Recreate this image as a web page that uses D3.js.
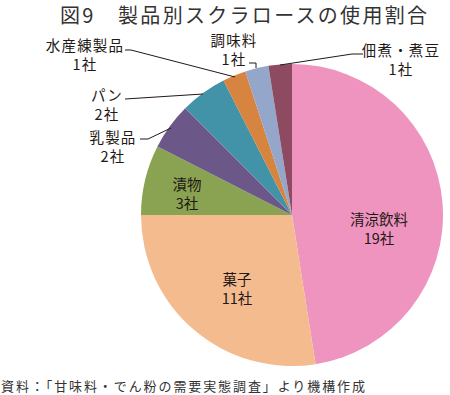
<!DOCTYPE html>
<html lang="ja">
<head>
<meta charset="UTF-8">
<title>製品別スクラロースの使用割合</title>
<script src="https://cdn.jsdelivr.net/npm/d3@7"></script>
<style>
  body { margin: 0; background: #fff; }
  svg { display: block; font-family: "Noto Sans CJK JP", "Noto Sans", sans-serif; }
  .lbl { font-size: 14.5px; fill: #231815; }
  .out { letter-spacing: 1.2px; }
  .leader { fill: none; stroke: #231815; stroke-width: 1; }
</style>
</head>
<body>
<svg id="chart" width="450" height="395"></svg>
<script>
// data (counts of companies)
const categories = ["清涼飲料", "菓子", "漬物", "乳製品", "パン", "水産練製品", "調味料", "佃煮・煮豆"];
const counts = [19, 11, 3, 2, 2, 1, 1, 1];
const colors = ["#ee94be", "#f4bb8f", "#8aa352", "#6c5789", "#4292a8", "#d6843f", "#94a6c9", "#8e4a60"];

// label anchor points [x, y of first line]
const labelPos = [[379, 220], [237, 280], [187, 185], [113, 138], [107, 96], [85, 46], [234, 41], [401, 51]];
// leader lines (null = label inside slice)
const leaders = [null, null, null,
  [[140, 139], [148, 139], [171, 128]],
  [[125, 99], [203, 94]],
  [[125, 50], [131, 50], [235, 77]],
  [[249, 63], [256, 63], [256, 68]],
  [[363, 54], [352, 54], [280, 65]]
];

const svg = d3.select("#chart");
const cx = 292, cy = 215, r = 151;

svg.append("text")
  .attr("x", 60).attr("y", 23)
  .attr("font-size", 20)
  .attr("textLength", 367)
  .attr("lengthAdjust", "spacing")
  .attr("fill", "#333")
  .text("図9　製品別スクラロースの使用割合");

const pie = d3.pie().sort(null).value(d => d);
const arc = d3.arc().innerRadius(0).outerRadius(r);

const g = svg.append("g").attr("transform", `translate(${cx},${cy})`);
g.selectAll("path")
  .data(pie(counts))
  .join("path")
  .attr("d", arc)
  .attr("fill", (d, i) => colors[i]);

const line = d3.line();
svg.selectAll("path.leader")
  .data(leaders.filter(d => d))
  .join("path")
  .attr("class", "leader")
  .attr("d", line);

const labels = svg.selectAll("text.lbl")
  .data(categories)
  .join("text")
  .attr("class", (d, i) => leaders[i] ? "lbl out" : "lbl")
  .attr("text-anchor", "middle")
  .attr("transform", (d, i) => `translate(${labelPos[i][0]},${labelPos[i][1]})`);
labels.append("tspan").attr("x", 0).attr("y", 0).attr("dy", "0.35em").text(d => d);
labels.append("tspan").attr("x", 0).attr("y", 19).attr("dy", "0.35em")
  .text((d, i) => counts[i] + "社");

svg.append("text")
  .attr("x", 1).attr("y", 391)
  .attr("font-size", 13)
  .attr("textLength", 364)
  .attr("lengthAdjust", "spacing")
  .attr("fill", "#333")
  .text("資料：「甘味料・でん粉の需要実態調査」より機構作成");
</script>
</body>
</html>
